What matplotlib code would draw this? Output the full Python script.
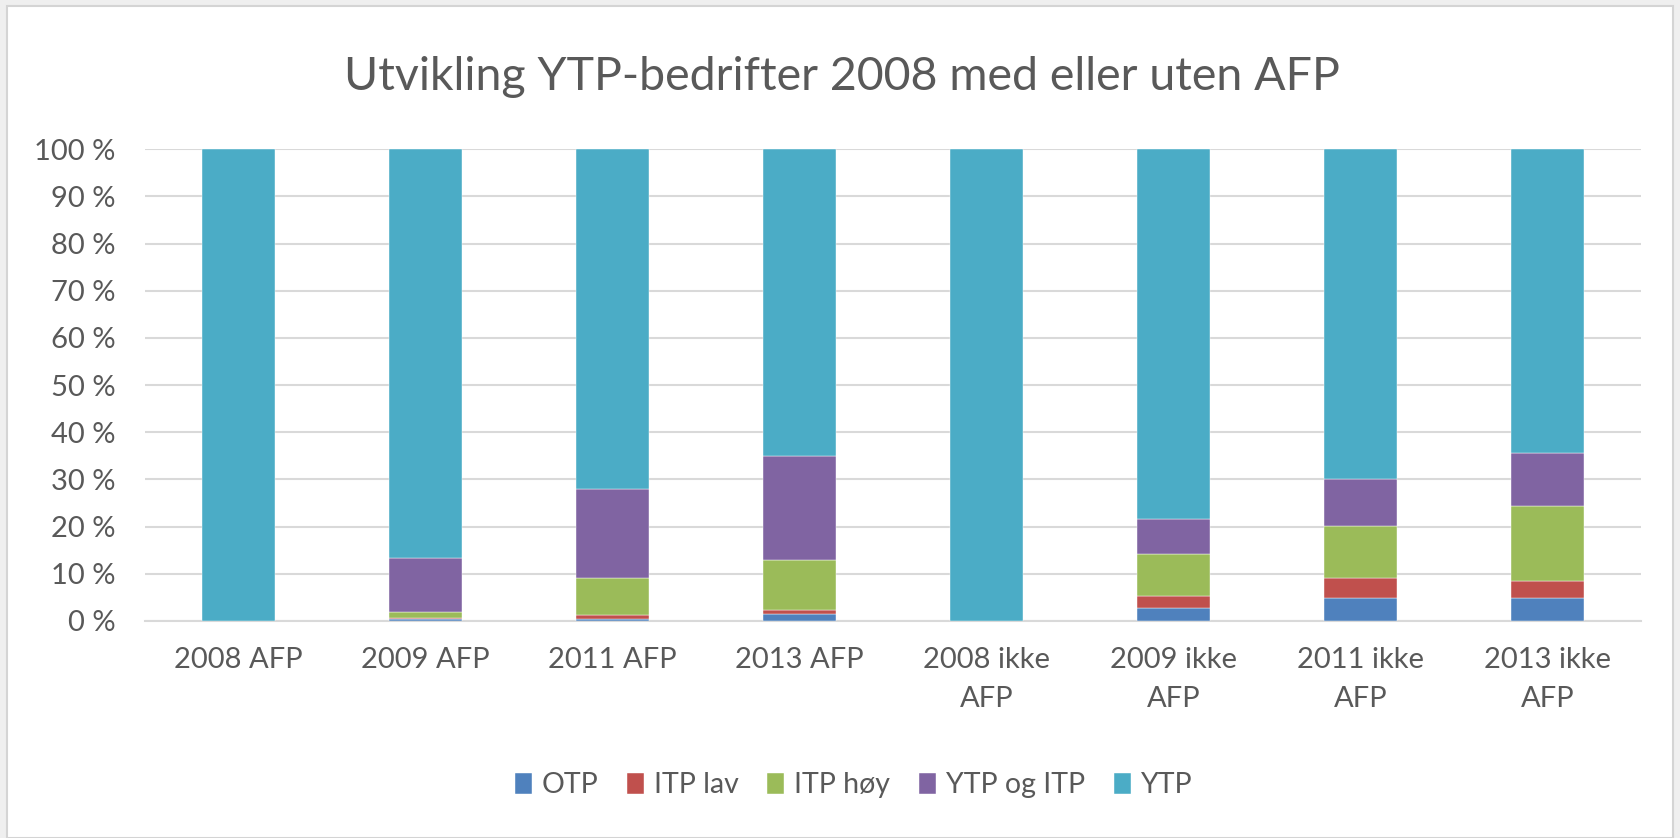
import matplotlib
matplotlib.use("Agg")
import matplotlib.pyplot as plt
from matplotlib.patches import Rectangle
from matplotlib.ticker import FixedLocator
import numpy as np

categories = ["2008 AFP", "2009 AFP", "2011 AFP", "2013 AFP",
              "2008 ikke\nAFP", "2009 ikke\nAFP", "2011 ikke\nAFP", "2013 ikke\nAFP"]
otp = [0.0, 0.5, 0.4, 1.5, 0.0, 2.7, 4.8, 4.8]
itp_lav = [0.0, 0.1, 0.9, 0.9, 0.0, 2.5, 4.4, 3.6]
itp_hoy = [0.0, 1.4, 7.8, 10.5, 0.0, 9.0, 10.9, 16.0]
ytp_og_itp = [0.0, 11.4, 18.8, 22.1, 0.0, 7.5, 9.9, 11.1]
ytp = [100.0, 86.6, 72.1, 65.0, 100.0, 78.3, 70.0, 64.5]
series_names = ["OTP", "ITP lav", "ITP høy", "YTP og ITP", "YTP"]
colors = ["#4F81BD", "#C0504D", "#9BBB59", "#8064A2", "#4BACC6"]
yticks = [0, 10, 20, 30, 40, 50, 60, 70, 80, 90, 100]
ytick_labels = [f"{v} %" for v in yticks]

FONT = ["Lato", "DejaVu Sans"]
plt.rcParams["font.family"] = FONT
TXT = "#595959"

fig = plt.figure(figsize=(16.8, 8.38), dpi=100)
fig.patch.set_facecolor("#efefef")
fig.add_artist(Rectangle((0.004, 0.0), 0.992, 0.993, transform=fig.transFigure,
                         facecolor="white", edgecolor="#d4d4d4", lw=1.5, zorder=0))

ax = fig.add_axes([0.0863, 0.259, 0.8905, 0.563])
ax.set_facecolor("none")
x = np.arange(len(categories))
bottom = np.zeros(len(categories))
for name, vals, c in zip(series_names, [otp, itp_lav, itp_hoy, ytp_og_itp, ytp], colors):
    ax.bar(x, vals, 0.39, bottom=bottom, color=c, label=name, zorder=3,
           edgecolor="white", linewidth=0.3)
    bottom += np.array(vals)

ax.set_xlim(-0.5, len(categories) - 0.5)
ax.set_ylim(0, 100)
ax.yaxis.set_major_locator(FixedLocator(yticks))
ax.set_yticklabels(ytick_labels)
ax.set_xticks(x)
ax.set_xticklabels(categories)
ax.grid(axis="y", color="#d9d9d9", lw=1.5, zorder=0)
for s in ["top", "right", "left"]:
    ax.spines[s].set_visible(False)
ax.spines["bottom"].set_color("#d9d9d9")
ax.spines["bottom"].set_linewidth(1.5)
ax.tick_params(axis="both", length=0, labelsize=21, colors=TXT)
ax.tick_params(axis="y", pad=21)
ax.tick_params(axis="x", pad=19)
for lab in ax.get_xticklabels():
    lab.set_linespacing(1.6)

fig.text(0.501, 0.908, "Utvikling YTP-bedrifter 2008 med eller uten AFP",
         ha="center", va="center", fontsize=33.5, color=TXT)

handles, labels = ax.get_legend_handles_labels()
leg = fig.legend(handles, labels, loc="center", bbox_to_anchor=(0.508, 0.063), ncol=5,
                 frameon=False, fontsize=20.5, handlelength=0.6, handleheight=0.75,
                 handletextpad=0.35, columnspacing=1.0, labelcolor=TXT)

fig.savefig("out.png", dpi=100, facecolor=fig.get_facecolor())
